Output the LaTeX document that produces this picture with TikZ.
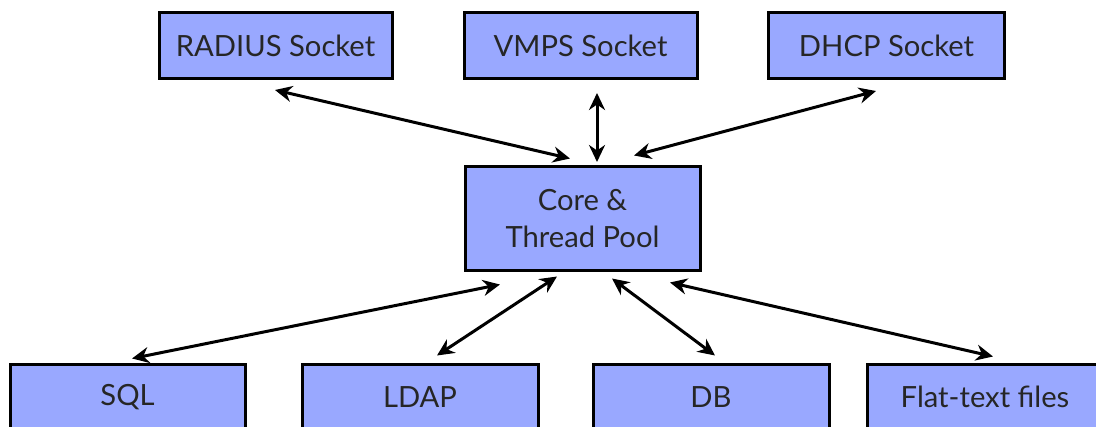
\documentclass[tikz,border=0pt]{standalone}
\usepackage{fontspec}
\setmainfont{Lato}
\usepackage{tikz}
\usetikzlibrary{arrows.meta,calc}
\definecolor{boxblue}{RGB}{153,168,255}
\tikzset{box node/.style={rectangle,draw,fill=boxblue,line width=1.5pt,minimum width=116.5pt,minimum height=33pt,inner sep=0pt,text=black!85,font=\fontsize{14.6}{18.5}\selectfont,align=center},}

\begin{document}
\begin{tikzpicture}[x=0.5pt, y=-0.5pt, <->, >={Stealth[length=8.5pt,width=8pt]}, line width=1.5pt]
		\clip (0,0) rectangle (1096,427);
		\node[box node, minimum height=51.5pt, minimum width=117.5pt] (core) at (582.5,218.5) {Core \&\\Thread Pool};
	    \node[box node] (radius) at (275.5,45.5) {RADIUS Socket};
	    \node[box node] (vmps) at (580.5,45.5) {VMPS Socket};
	    \node[box node, minimum width=118pt] (dhcp) at (886.5,45.5) {DHCP Socket};
	    \node[box node, minimum width=117.5pt] (sql) at (127.5,397) {SQL};
	    \node[box node, minimum width=118pt] (ldap) at (420,397) {LDAP};
	    \node[box node, minimum width=118pt] (db) at (711,397) {DB};
	    \node[box node, minimum width=118pt] (flat) at (985,397) {Flat-text files};
	
	    \draw ($(radius.south)+(-0.5,10)$) -- ($(core.north)+(-12.5,-7)$);
	    \draw ($(vmps.south)+(16.5,13)$) -- ($(vmps.south)+(16.5,82)$);
	    \draw ($(dhcp.south)+(-10.5,11)$) -- ($(core.north)+(51.5,-10)$);
	    \draw ($(sql.north)+(4.5,-4)$) -- ($(core.south)+(-82.5,13)$);
	    \draw ($(ldap.north)+(17,-7)$) -- ($(core.south)+(-25.5,5)$);
	    \draw ($(db.north)+(4,-7)$) -- ($(core.south)+(29.5,7)$);
	    \draw ($(flat.north)+(8,-6)$) -- ($(core.south)+(87.5,11)$);
	\end{tikzpicture}
\end{document}
